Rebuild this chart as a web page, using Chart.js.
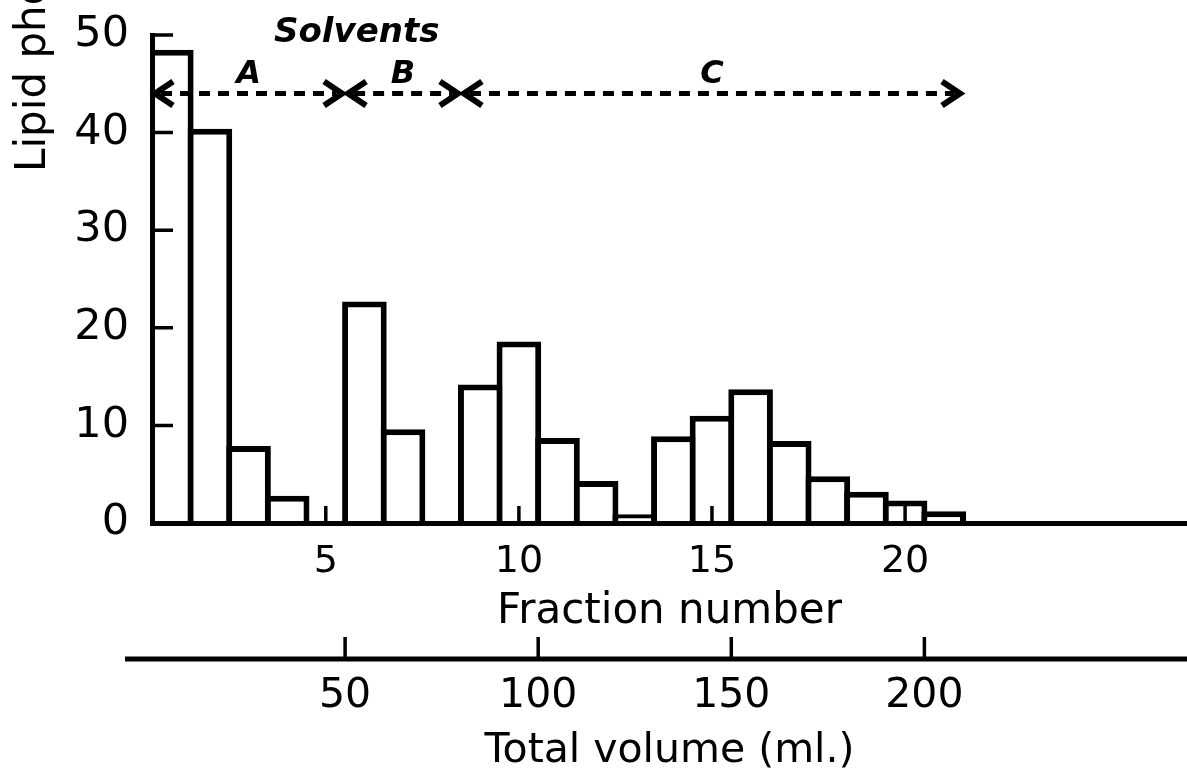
<!DOCTYPE html>
<html>
<head>
<meta charset="utf-8">
<title>Lipid phosphorus by fraction</title>
<script src="https://cdn.jsdelivr.net/npm/chart.js@4.4.1/dist/chart.umd.min.js"></script>
<style>
  html, body { margin: 0; padding: 0; background: #fff; }
  #wrap { width: 1187px; height: 776px; }
</style>
</head>
<body>
<div id="wrap"><canvas id="chart" width="1187" height="776"></canvas></div>
<script>
// values
const fractions = [1, 2, 3, 4, 5, 6, 7, 8, 9, 10, 11, 12, 13, 14, 15, 16, 17, 18, 19, 20, 21];
const lipid = [48.5, 40.4, 7.9, 2.8, 0, 22.7, 9.6, 0, 14.2, 18.6, 8.7, 4.3, 0.9, 8.9, 11.0, 13.7, 8.4, 4.8, 3.2, 2.3, 1.2];
const fractionTicks = [5, 10, 15, 20];
const volumeTicks = [50, 100, 150, 200];
const solventNames = ['A', 'B', 'C'];
const solventStart = [0.5, 5.5, 8.5];
const solventEnd = [5.5, 8.5, 21.5];
const solventLevel = 44;

const FONT = '"DejaVu Sans", sans-serif';
Chart.defaults.font.family = FONT;
Chart.defaults.color = '#000';

function drawHead(ctx, tipX, yy, dir) {
  ctx.beginPath();
  ctx.moveTo(tipX - dir * 18, yy - 12);
  ctx.lineTo(tipX, yy);
  ctx.lineTo(tipX - dir * 18, yy + 12);
  ctx.stroke();
}

// inward tick marks, volume axis line, solvent arrows and the texts the axes can't place
const extras = {
  id: 'extras',
  afterDraw(chart) {
    const { ctx, chartArea } = chart;
    const { x, y, x2 } = chart.scales;
    const volLine = x2.top + 1;
    ctx.save();
    ctx.strokeStyle = '#000';
    ctx.fillStyle = '#000';
    ctx.lineWidth = 3.5;
    ctx.beginPath();
    y.ticks.forEach(t => {
      const py = y.getPixelForValue(t.value);
      ctx.moveTo(chartArea.left, py);
      ctx.lineTo(chartArea.left + 21, py);
    });
    x.ticks.forEach(t => {
      const px = x.getPixelForValue(t.value);
      ctx.moveTo(px, chartArea.bottom);
      ctx.lineTo(px, chartArea.bottom - 17);
    });
    x2.ticks.forEach(t => {
      const px = x2.getPixelForValue(t.value);
      ctx.moveTo(px, volLine);
      ctx.lineTo(px, volLine - 22);
    });
    ctx.stroke();

    // volume axis line, reaching a bit left of zero
    ctx.lineWidth = 5;
    ctx.beginPath();
    ctx.moveTo(x2.getPixelForValue(-7), volLine);
    ctx.lineTo(x2.right, volLine);
    ctx.stroke();

    // solvent ranges
    const ay = y.getPixelForValue(solventLevel);
    solventNames.forEach((name, i) => {
      const x0 = x.getPixelForValue(solventStart[i]) + 3;
      const x1 = x.getPixelForValue(solventEnd[i]) - 3;
      ctx.lineWidth = 5;
      ctx.setLineDash([11, 8]);
      ctx.beginPath();
      ctx.moveTo(x0 + 6, ay);
      ctx.lineTo(x1 - 6, ay);
      ctx.stroke();
      ctx.setLineDash([]);
      ctx.lineWidth = 6;
      ctx.lineJoin = 'miter';
      drawHead(ctx, x0, ay, -1);
      drawHead(ctx, x1, ay, 1);
      ctx.font = 'italic bold 32px ' + FONT;
      ctx.textAlign = 'center';
      ctx.textBaseline = 'alphabetic';
      ctx.fillText(name, (x0 + x1) / 2, ay - 11);
    });

    ctx.font = 'italic bold 34px ' + FONT;
    ctx.textAlign = 'center';
    ctx.fillText('Solvents', x.getPixelForValue(5.8), y.getPixelForValue(49.3));

    // y title, cut by the top edge as in the source
    ctx.translate(45, 172);
    ctx.rotate(-Math.PI / 2);
    ctx.font = '42px ' + FONT;
    ctx.textAlign = 'left';
    ctx.fillText('Lipid phosphorus', 0, 0);
    ctx.restore();
  }
};

new Chart(document.getElementById('chart'), {
  type: 'bar',
  data: {
    datasets: [{
      data: fractions.map((f, i) => ({ x: f, y: lipid[i] })),
      backgroundColor: '#fff',
      borderColor: '#000',
      borderWidth: 6,
      borderSkipped: 'start',
      inflateAmount: 0,
      categoryPercentage: 1,
      barPercentage: 1.155
    }]
  },
  options: {
    responsive: false,
    devicePixelRatio: 1,
    animation: false,
    layout: { padding: { top: 35, left: 0, right: 0, bottom: 0 } },
    plugins: { legend: { display: false }, tooltip: { enabled: false } },
    scales: {
      x: {
        type: 'linear',
        position: 'bottom',
        min: 0.5,
        max: 27.3,
        offset: false,
        grid: { display: false, offset: false },
        border: { display: true, width: 5, color: '#000', z: 1 },
        ticks: { font: { size: 38 }, padding: 8, maxRotation: 0 },
        title: { display: true, text: 'Fraction number', font: { size: 42 }, padding: { top: 0, bottom: 21 } },
        afterBuildTicks: s => { s.ticks = fractionTicks.map(v => ({ value: v })); },
        afterFit: s => { s.height = 135; s.paddingLeft = 0; s.paddingRight = 0; }
      },
      x2: {
        type: 'linear',
        axis: 'x',
        position: 'bottom',
        min: 0,
        max: 268,
        offset: false,
        grid: { display: false, offset: false },
        border: { display: false },
        ticks: { font: { size: 41 }, padding: 6, maxRotation: 0 },
        title: { display: true, text: 'Total volume (ml.)', font: { size: 41 }, padding: { top: 0, bottom: 0 } },
        afterBuildTicks: s => { s.ticks = volumeTicks.map(v => ({ value: v })); },
        afterFit: s => { s.height = 118; s.paddingLeft = 0; s.paddingRight = 0; }
      },
      y: {
        min: 0,
        max: 50,
        grid: { display: false },
        border: { display: true, width: 5, color: '#000', z: 1 },
        ticks: { stepSize: 10, font: { size: 43 }, padding: 15 },
        afterFit: s => { s.width = 152; s.paddingTop = 0; s.paddingBottom = 0; }
      }
    }
  },
  plugins: [extras]
});
</script>
</body>
</html>
